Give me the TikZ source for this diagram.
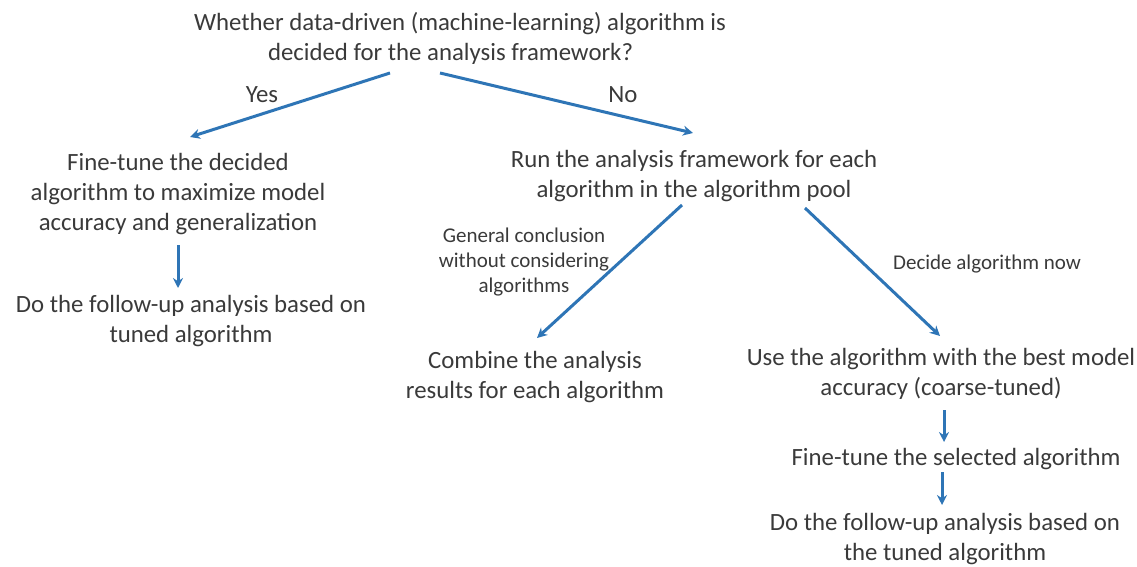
\documentclass[tikz,border=0pt]{standalone}
\usepackage{fontspec}
\setmainfont{Carlito}
\usetikzlibrary{arrows.meta}
\definecolor{arrowblue}{HTML}{2E75B6}
\definecolor{txt}{HTML}{3A3A3A}
\begin{document}
\begin{tikzpicture}[x=1pt,y=-1pt,
  every node/.style={text=txt,inner sep=0pt,align=center},
  main/.style={font=\fontsize{24.8}{30}\selectfont},
  small/.style={font=\fontsize{21}{25}\selectfont},
  conn/.style={draw=arrowblue,line width=3pt,-{Stealth[length=10pt,width=10pt]}}]
\useasboundingbox (0,0) rectangle (1137,567);
\node[main] (q) at (460,38) {Whether data-driven (machine-learning) algorithm is\\decided for the analysis framework?\hspace*{19pt}};
\node[main] (yes) at (262,95) {Yes};
\node[main] (no) at (623,95) {No};
\node[main] (ft) at (178,194) {Fine-tune the decided\\algorithm to maximize model\\accuracy and generalization};
\node[main] (fu) at (191,321) {Do the follow-up analysis based on\\tuned algorithm};
\node[main] (run) at (694,176) {Run the analysis framework for each\\algorithm in the algorithm pool};
\node[small] (gc) at (524,262) {General conclusion\\without considering\\algorithms};
\node[small] (dn) at (987,264) {Decide algorithm now};
\node[main] (comb) at (535,377) {Combine the analysis\\results for each algorithm};
\node[main] (use) at (941,374) {Use the algorithm with the best model\\accuracy (coarse-tuned)};
\node[main] (fts) at (956,459) {Fine-tune the selected algorithm};
\node[main] (fu2) at (945,539) {Do the follow-up analysis based on\\the tuned algorithm};
% connector end points
\coordinate (qy) at (390,73);
\coordinate (ya) at (190,137);
\coordinate (qn) at (440,73);
\coordinate (na) at (693,133);
\coordinate (fts1) at (178,245);
\coordinate (fue) at (178,288);
\coordinate (runl) at (682,205);
\coordinate (combe) at (537,338);
\coordinate (runr) at (805,208);
\coordinate (usee) at (940,336);
\coordinate (uses) at (944,410);
\coordinate (ftse) at (944,442);
\coordinate (ftss) at (942,472);
\coordinate (fu2e) at (942,505);
\draw[conn] (qy) -- (ya);
\draw[conn] (qn) -- (na);
\draw[conn] (fts1) -- (fue);
\draw[conn] (runl) -- (combe);
\draw[conn] (runr) -- (usee);
\draw[conn] (uses) -- (ftse);
\draw[conn] (ftss) -- (fu2e);
\end{tikzpicture}
\end{document}
